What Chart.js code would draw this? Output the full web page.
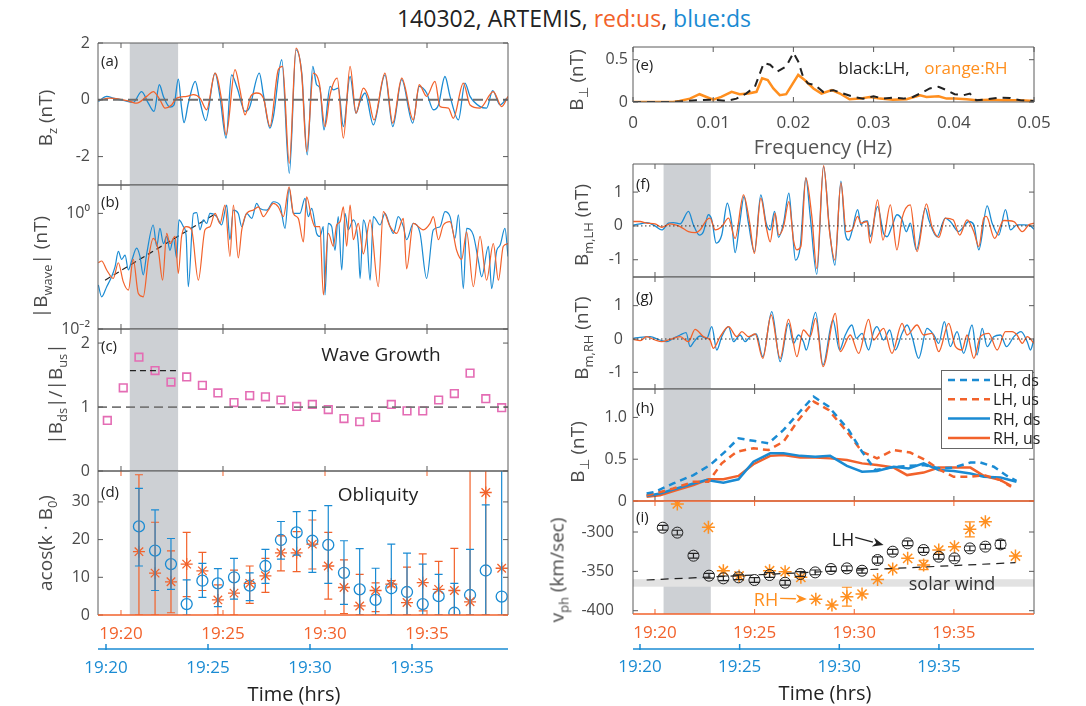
<!DOCTYPE html>
<html><head><meta charset="utf-8">
<script src="https://cdn.jsdelivr.net/npm/chart.js@4.4.1/dist/chart.umd.min.js"></script>
<style>
body{margin:0;background:#fff;}
#wrap{position:relative;width:1086px;height:706px;overflow:hidden;background:#fff;font-family:'Open Sans',sans-serif;}
canvas{position:absolute;}
.c{position:absolute;white-space:nowrap;line-height:1;transform:translate(-50%,-50%);color:#222;}
.p{position:absolute;white-space:nowrap;line-height:1;transform:translateY(-50%);color:#222;font-size:15px;}
.yl{position:absolute;white-space:nowrap;line-height:1;color:#4a4a4a;font-size:19px;transform:translate(-50%,-50%) rotate(-90deg);}
sub{font-size:68%;vertical-align:-0.4em;line-height:0;}
</style></head><body><div id="wrap">
<div class="c" style="left:574px;top:18px;font-size:23px;">140302, ARTEMIS, <span style="color:#f2622b">red:us</span>, <span style="color:#1a8bd3">blue:ds</span></div>
</div>
<script>
// ---------------- DATA ----------------
const timeTicks = [20, 25, 30, 35];          // minutes after 19:00
const shadeWindow = [20.43, 22.80];
// (a) Bz
const bzDs = [[18.89,-0.06],[19.30,0.12],[19.62,0.06],[20.11,-0.02],[20.60,-0.09],[21.01,0.29],[21.34,-0.12],[21.62,-0.41],[21.88,0.53],[22.08,0.12],[22.40,-0.26],[22.60,-0.18],[22.81,0.73],[22.97,-0.29],[23.09,-0.80],[23.30,-0.12],[23.64,0.65],[23.87,-0.06],[24.15,-0.73],[24.61,0.94],[24.85,0.12],[25.15,-1.35],[25.42,0.88],[25.70,0.41],[26.08,-0.41],[26.29,-0.29],[26.78,0.94],[26.98,0.18],[27.30,-1.00],[27.47,-0.59],[27.88,1.41],[28.25,-2.59],[28.58,1.76],[28.86,0.94],[29.13,-1.94],[29.40,1.18],[29.59,0.53],[29.75,0.41],[29.95,-1.06],[30.25,0.47],[30.41,0.35],[30.65,0.41],[30.90,-0.94],[31.23,0.82],[31.52,-0.47],[31.72,-0.06],[31.96,0.24],[32.37,-0.88],[32.94,0.88],[33.32,-0.94],[33.76,0.71],[34.30,-0.82],[34.62,0.47],[34.98,0.24],[35.31,-0.35],[35.56,-0.18],[35.88,0.82],[36.13,0.12],[36.54,-0.71],[36.86,0.59],[37.11,0.12],[37.60,-0.24],[37.92,-0.29],[38.22,0.32],[38.58,-0.18],[38.91,0.06]];
const bzUs = [[18.89,-0.02],[19.46,0.06],[20.44,-0.06],[20.77,-0.12],[21.26,0.12],[21.58,0.29],[21.91,0.00],[22.16,-0.29],[22.48,-0.18],[22.73,0.06],[23.22,0.12],[23.55,0.18],[23.87,0.06],[24.20,-0.35],[24.61,0.94],[24.93,0.00],[25.15,-1.24],[25.59,1.06],[25.83,0.35],[26.08,-0.53],[26.36,0.12],[26.65,0.24],[26.98,0.06],[27.30,-0.94],[27.71,1.06],[27.92,1.18],[28.25,-2.24],[28.58,1.82],[28.86,0.88],[29.10,-1.82],[29.43,0.94],[29.72,0.59],[30.00,-0.94],[30.25,0.18],[30.60,0.76],[30.90,-1.35],[31.23,1.18],[31.52,-0.47],[31.88,0.41],[32.12,0.12],[32.40,-0.71],[32.94,0.94],[33.32,-0.82],[33.76,0.76],[34.33,-0.71],[34.62,0.53],[34.98,0.12],[35.39,0.65],[35.64,-0.24],[36.05,-0.29],[36.29,-0.65],[36.78,0.59],[37.11,-0.18],[37.60,-0.29],[38.25,0.29],[38.66,-0.24],[38.97,0.12]];
// (b) |B_wave|
const bwDs = [[18.89,0.058],[19.05,0.036],[19.30,0.054],[19.54,0.080],[19.71,0.12],[19.87,0.22],[20.03,0.16],[20.20,0.19],[20.36,0.105],[20.52,0.15],[20.77,0.25],[20.93,0.18],[21.09,0.086],[21.26,0.20],[21.58,0.63],[21.75,0.27],[21.91,0.55],[22.08,0.30],[22.24,0.40],[22.40,0.23],[22.57,0.37],[22.73,0.17],[22.84,0.77],[23.06,0.59],[23.19,0.42],[23.30,0.054],[23.55,1.00],[23.71,1.03],[23.87,0.52],[24.04,0.77],[24.20,0.67],[24.36,1.00],[24.69,0.88],[24.93,0.63],[25.18,1.39],[25.34,0.35],[25.51,1.14],[25.75,1.00],[25.92,0.59],[26.16,1.00],[26.41,0.82],[26.65,1.49],[26.81,1.22],[27.14,1.14],[27.47,1.59],[27.79,1.39],[28.04,0.55],[28.24,2.71],[28.45,1.00],[28.77,1.00],[29.02,1.82],[29.18,0.88],[29.35,1.22],[29.59,0.45],[29.75,0.40],[29.92,0.59],[30.00,0.039],[30.16,0.67],[30.33,0.59],[30.49,0.23],[30.65,0.88],[30.82,0.105],[30.98,1.00],[31.14,0.52],[31.39,0.77],[31.63,0.30],[31.72,0.075],[31.88,0.77],[32.04,0.45],[32.21,0.070],[32.37,0.88],[32.70,0.63],[32.94,1.00],[33.19,0.59],[33.35,0.45],[33.59,0.88],[33.84,0.59],[34.00,0.35],[34.33,0.67],[34.66,0.45],[34.98,0.075],[35.31,0.52],[35.64,0.59],[35.88,1.07],[36.13,0.88],[36.37,0.37],[36.54,0.94],[36.78,0.050],[36.94,0.55],[37.27,0.42],[37.52,0.15],[37.68,0.080],[38.01,0.27],[38.17,0.050],[38.42,0.23],[38.58,0.28],[38.82,0.55],[38.97,0.18]];
const bwUs = [[18.89,0.14],[19.05,0.15],[19.30,0.105],[19.62,0.075],[19.87,0.14],[20.11,0.066],[20.36,0.047],[20.60,0.16],[20.85,0.041],[21.09,0.036],[21.34,0.16],[21.58,0.37],[21.83,0.23],[22.04,0.070],[22.24,0.45],[22.40,0.30],[22.65,0.40],[22.81,0.092],[22.97,0.40],[23.22,0.59],[23.46,0.52],[23.79,0.070],[24.12,0.52],[24.36,0.59],[24.61,1.00],[24.85,0.67],[25.10,1.39],[25.34,0.18],[25.51,1.39],[25.75,0.17],[25.92,0.52],[26.16,1.00],[26.49,1.14],[26.73,1.30],[26.98,0.88],[27.22,1.14],[27.47,1.49],[27.71,1.30],[27.96,0.88],[28.24,2.89],[28.45,1.00],[28.69,0.82],[28.94,0.32],[29.10,1.94],[29.35,0.82],[29.51,0.59],[29.75,0.59],[29.92,0.039],[30.16,0.45],[30.41,0.27],[30.57,0.63],[30.74,0.72],[30.90,1.30],[31.06,0.27],[31.23,1.39],[31.39,0.35],[31.63,0.67],[31.88,0.20],[32.21,0.77],[32.61,0.054],[32.86,1.07],[33.19,0.59],[33.51,0.45],[33.84,0.82],[34.00,0.11],[34.33,0.67],[34.82,0.52],[35.15,0.67],[35.31,0.88],[35.56,0.35],[35.80,0.63],[36.13,0.72],[36.45,0.23],[36.70,0.16],[36.94,0.48],[37.27,0.054],[37.60,0.40],[37.92,0.070],[38.25,0.30],[38.50,0.070],[38.74,0.27],[38.97,0.30]];
const growthFit = [[19.22,0.070],[24.53,0.94]];
// (c) wave growth ratio
const ratioT = [19.33,20.11,20.88,21.67,22.45,23.22,23.99,24.75,25.54,26.31,27.08,27.84,28.61,29.38,30.16,30.93,31.70,32.48,33.25,34.02,34.79,35.57,36.34,37.11,37.88,38.66];
const ratioV = [0.79,1.30,1.78,1.57,1.39,1.47,1.34,1.22,1.07,1.18,1.16,1.11,1.01,1.04,0.96,0.82,0.77,0.84,1.04,0.94,0.94,1.11,1.21,1.53,1.13,0.99];
const growthLevel = [[20.44,1.57],[22.81,1.57]];
// (d) obliquity
const obliqT = [20.88,21.67,22.45,23.22,23.99,24.75,25.54,26.31,27.08,27.84,28.61,29.38,30.16,30.93,31.70,32.48,33.25,34.02,34.79,35.57,36.34,37.11,37.88,38.66];
const obliqDs   = [23.5,17.1,13.5,2.9,9.1,8.4,10.0,7.8,13.0,19.9,21.9,19.7,18.6,11.2,6.8,4.0,7.1,6.1,2.9,5.0,0.6,5.3,11.8,4.9];
const obliqDsLo = [13.0,6.5,6.8,0,4.7,2.2,4.2,3.8,8.4,14.8,15.9,11.3,8.4,2.8,0,0,0,0,0,0,0,0,0,0];
const obliqDsHi = [33.6,27.9,20.3,9.3,13.7,12.3,15.0,11.2,17.4,24.8,27.4,27.7,29.0,19.7,17.6,12.4,18.8,16.4,13.5,10.8,8.4,17.4,29.2,45];
const obliqUs   = [16.8,11.1,8.8,13.5,11.7,4.0,5.8,8.4,10.4,16.5,16.5,18.8,13.0,7.3,2.4,6.5,8.2,3.3,8.6,6.8,6.5,3.5,32.5,12.4];
const obliqUsLo = [0,0,0.6,4.9,6.5,0,0,3.1,6.0,11.7,11.5,12.2,4.2,0.4,0,0.9,7.5,0,1.1,0,0,0,0,12.4];
const obliqUsHi = [37.2,24.6,17.0,21.9,16.6,8.0,11.9,13.0,15.0,21.0,22.1,25.2,21.9,14.6,10.8,8.5,9.1,12.7,16.2,14.2,17.7,45,45,12.4];
// (e) spectra
const freqTicks = [0,0.01,0.02,0.03,0.04,0.05];
const specLH = [[0,0],[0.0050,0],[0.0079,0.020],[0.0100,0.028],[0.0116,0.012],[0.0129,0.040],[0.0141,0.100],[0.0152,0.180],[0.0163,0.460],[0.0171,0.440],[0.0180,0.360],[0.0191,0.420],[0.0200,0.580],[0.0206,0.480],[0.0212,0.300],[0.0218,0.220],[0.0227,0.200],[0.0237,0.120],[0.0250,0.140],[0.0262,0.100],[0.0275,0.060],[0.0287,0.040],[0.0300,0.068],[0.0312,0.040],[0.0324,0.052],[0.0337,0.040],[0.0349,0.060],[0.0358,0.100],[0.0370,0.160],[0.0381,0.180],[0.0391,0.140],[0.0401,0.092],[0.0412,0.080],[0.0420,0.100],[0.0428,0.020],[0.0441,0.032],[0.0458,0.052],[0.0470,0.048],[0.0483,0.020],[0.0500,0.012]];
const specRH = [[0,0],[0.0050,0],[0.0058,0.012],[0.0071,0.040],[0.0083,0.092],[0.0100,0.028],[0.0110,0.060],[0.0123,0.120],[0.0133,0.092],[0.0144,0.100],[0.0154,0.120],[0.0161,0.280],[0.0168,0.260],[0.0175,0.160],[0.0183,0.080],[0.0191,0.092],[0.0206,0.320],[0.0214,0.260],[0.0225,0.160],[0.0235,0.100],[0.0248,0.140],[0.0258,0.100],[0.0270,0.032],[0.0283,0.040],[0.0295,0.060],[0.0308,0.040],[0.0324,0.028],[0.0341,0.032],[0.0358,0.080],[0.0366,0.060],[0.0381,0.068],[0.0391,0.040],[0.0401,0.040],[0.0416,0.032],[0.0428,0.020],[0.0445,0.028],[0.0462,0.020],[0.0483,0.020],[0.0500,0.012]];
// (f) B_m,LH
const bmlDs = [[18.91,0.03],[19.25,0.06],[19.58,0.10],[20.00,0.00],[20.34,-0.12],[20.67,0.08],[20.92,0.10],[21.26,0.06],[21.68,0.43],[21.93,0.03],[22.23,-0.27],[22.43,-0.17],[22.68,0.33],[22.85,0.18],[23.07,-0.51],[23.35,-0.27],[23.63,0.67],[23.85,0.08],[24.02,-0.79],[24.24,0.03],[24.47,0.87],[24.69,0.08],[24.99,-0.76],[25.31,0.92],[25.58,0.08],[25.78,-0.12],[26.00,0.43],[26.20,-0.34],[26.45,0.08],[26.72,0.97],[26.87,0.08],[27.05,-1.01],[27.29,-0.61],[27.57,1.42],[27.79,0.28],[28.12,-1.43],[28.46,1.76],[28.76,-0.12],[29.03,-1.16],[29.33,1.32],[29.55,-0.22],[29.72,-0.42],[29.88,-0.17],[30.17,0.48],[30.34,0.03],[30.47,0.13],[30.67,0.15],[30.80,-0.32],[31.17,0.57],[31.47,-0.22],[31.64,-0.32],[31.89,-0.02],[32.14,0.33],[32.40,0.18],[32.61,-0.17],[32.81,0.08],[33.12,-0.71],[33.57,0.52],[33.74,0.18],[34.15,-0.32],[34.57,0.23],[34.82,0.13],[35.24,-0.17],[35.49,-0.02],[35.75,0.13],[36.00,0.03],[36.25,-0.71],[36.67,0.59],[36.92,0.08],[37.25,-0.27],[37.59,0.48],[37.84,-0.12],[38.17,0.03],[38.51,0.03],[38.84,0.00],[39.02,-0.10]];
const bmlUs = [[18.91,0.13],[19.25,0.13],[19.58,0.08],[20.00,0.06],[20.34,-0.04],[20.75,0.06],[21.26,-0.02],[21.68,-0.17],[22.01,-0.20],[22.26,-0.12],[22.60,0.18],[22.76,0.23],[23.02,-0.12],[23.35,-0.02],[23.69,0.23],[24.02,-0.37],[24.44,0.92],[24.74,0.13],[24.99,-0.81],[25.31,0.82],[25.58,-0.02],[25.78,-0.47],[26.03,0.38],[26.21,-0.27],[26.45,-0.02],[26.72,0.72],[26.95,-0.42],[27.12,-0.71],[27.32,-0.61],[27.57,1.42],[27.87,0.28],[28.12,-1.26],[28.46,1.78],[28.76,-0.17],[29.03,-1.01],[29.33,1.27],[29.60,-0.17],[29.88,-0.12],[30.17,0.28],[30.34,0.08],[30.64,0.13],[30.80,-0.51],[31.17,0.77],[31.44,-0.42],[31.81,0.62],[32.14,-0.71],[32.40,0.23],[32.81,0.62],[33.15,-0.76],[33.62,0.65],[33.90,-0.02],[34.24,-0.34],[34.57,0.23],[34.96,0.18],[35.29,-0.27],[35.66,0.18],[36.00,-0.17],[36.25,-0.61],[36.50,0.23],[36.63,0.28],[37.04,-0.37],[37.50,0.16],[38.01,0.13],[38.43,-0.17],[38.76,0.03],[39.02,0.08]];
// (g) B_m,RH
const bmrDs = [[18.91,0.02],[19.25,0.05],[19.75,0.07],[20.25,-0.03],[20.59,-0.08],[20.92,0.02],[21.26,0.12],[21.56,0.19],[21.76,-0.23],[21.96,-0.08],[22.26,0.09],[22.60,0.02],[22.85,0.37],[23.10,-0.33],[23.35,0.07],[23.69,0.37],[23.94,-0.08],[24.27,0.12],[24.52,-0.08],[24.77,0.07],[25.08,0.15],[25.41,-0.53],[25.86,0.82],[26.28,-0.68],[26.70,0.47],[26.95,-0.13],[27.20,0.12],[27.45,-0.08],[27.59,-0.33],[28.06,0.80],[28.43,-0.78],[28.93,0.57],[29.26,-0.33],[29.55,0.12],[29.88,0.42],[30.10,0.02],[30.39,0.17],[30.72,-0.33],[30.97,0.22],[31.14,0.37],[31.47,-0.03],[31.78,0.27],[32.06,-0.33],[32.40,0.17],[32.65,0.42],[32.90,0.07],[33.23,-0.58],[33.65,0.32],[33.99,0.12],[34.24,-0.13],[34.52,0.52],[34.82,-0.23],[35.16,0.22],[35.49,-0.43],[35.91,0.42],[36.16,-0.48],[36.42,0.32],[36.67,-0.23],[37.00,0.07],[37.34,0.12],[37.64,-0.23],[38.01,0.07],[38.37,0.22],[38.68,-0.08],[38.84,-0.33],[39.02,0.00]];
const bmrUs = [[18.91,-0.01],[19.25,-0.05],[19.58,0.07],[20.00,-0.03],[20.34,-0.08],[20.75,-0.01],[21.26,0.07],[21.68,-0.08],[22.01,0.29],[22.43,0.07],[22.76,-0.03],[22.93,-0.28],[23.27,0.07],[23.69,0.37],[24.10,0.07],[24.36,0.22],[24.69,0.07],[25.03,0.15],[25.41,-0.58],[25.83,0.72],[26.28,-0.58],[26.70,0.59],[27.12,-0.53],[27.45,0.27],[27.79,0.07],[28.06,0.62],[28.43,-0.83],[29.05,0.77],[29.30,-0.38],[29.80,0.12],[30.22,-0.43],[30.72,0.59],[30.97,-0.03],[31.47,0.32],[31.89,-0.43],[32.40,0.47],[32.65,0.12],[33.15,0.42],[33.48,0.12],[33.90,0.17],[34.24,-0.38],[34.74,0.47],[35.08,-0.23],[35.41,-0.33],[35.66,0.12],[36.00,-0.58],[36.33,0.07],[36.75,0.17],[37.17,-0.33],[37.59,0.22],[37.92,0.22],[38.17,0.12],[38.43,-0.13],[38.68,0.07],[39.02,-0.13]];
// (h) B_perp
const bpLhDs = [[19.58,0.09],[20.00,0.11],[20.92,0.21],[21.93,0.31],[22.76,0.43],[23.52,0.59],[24.19,0.75],[24.94,0.72],[25.70,0.69],[26.45,0.85],[27.20,1.05],[27.96,1.25],[28.71,1.13],[29.72,0.85],[30.39,0.59],[31.06,0.37],[31.81,0.40],[32.65,0.42],[33.48,0.43],[34.32,0.39],[34.99,0.40],[35.83,0.46],[36.33,0.46],[37.00,0.41],[37.67,0.30],[38.14,0.24]];
const bpLhUs = [[19.58,0.07],[20.00,0.09],[20.92,0.15],[21.93,0.23],[22.68,0.23],[23.35,0.45],[24.10,0.59],[24.94,0.63],[25.70,0.61],[26.45,0.71],[27.20,0.97],[27.96,1.19],[28.71,1.09],[29.63,0.83],[30.39,0.59],[31.14,0.51],[31.98,0.61],[32.81,0.58],[33.57,0.49],[34.32,0.37],[34.99,0.29],[35.83,0.29],[36.50,0.31],[37.34,0.25],[37.87,0.17]];
const bpRhDs = [[19.58,0.06],[20.25,0.09],[21.09,0.15],[21.93,0.21],[22.60,0.25],[23.43,0.22],[24.19,0.26],[24.94,0.47],[25.78,0.57],[26.45,0.57],[27.29,0.54],[28.04,0.53],[28.79,0.54],[29.63,0.42],[30.39,0.35],[31.14,0.36],[31.98,0.41],[32.73,0.39],[33.48,0.45],[34.24,0.37],[34.99,0.36],[35.83,0.33],[36.50,0.29],[37.34,0.28],[38.14,0.23]];
const bpRhUs = [[19.58,0.05],[20.25,0.07],[21.09,0.13],[21.93,0.19],[22.68,0.26],[23.43,0.26],[24.19,0.30],[24.94,0.44],[25.78,0.54],[26.45,0.55],[27.29,0.52],[28.04,0.52],[28.79,0.51],[29.63,0.49],[30.39,0.45],[31.14,0.43],[31.98,0.40],[32.65,0.31],[33.48,0.34],[34.24,0.40],[34.99,0.40],[35.83,0.40],[36.50,0.30],[37.34,0.25],[37.87,0.18]];
// (i) phase speed
const vphLhT = [20.39,21.12,21.93,22.71,23.43,24.19,24.99,25.75,26.53,27.29,28.04,28.83,29.63,30.39,31.17,31.93,32.68,33.48,34.24,35.03,35.80,36.58,37.34];
const vphLh  = [-294.5,-300.8,-330.1,-355.5,-358.9,-357.6,-361.0,-354.7,-364.4,-353.4,-351.3,-347.0,-346.2,-349.2,-335.6,-325.0,-314.4,-322.9,-331.4,-333.5,-320.8,-318.6,-315.7];
const vphLhErr = [3,3,3,3,3,3,3,3,3,3,3,3,3,3,4,3,3,3,3,3,3,3,5];
const vphRhT = [21.12,22.68,23.43,24.22,25.75,26.53,27.32,28.07,28.88,29.63,30.39,31.17,31.93,32.68,33.48,34.24,35.03,35.80,36.58,38.09];
const vphRh  = [-264.4,-294.1,-349.2,-355.9,-349.2,-350.4,-357.6,-385.6,-392.8,-382.2,-378.8,-360.2,-347.0,-333.5,-341.9,-322.9,-318.6,-296.6,-286.9,-330.5];
const vphRhErr = [0,0,0,0,0,0,0,0,0,12,0,0,0,0,6,0,0,9.5,0,0];
const solarWindLine = [[19.58,-361],[38.09,-339]];
const solarWindBand = [-369.5, -360];
const arrowLH = [[30.05,-306.8],[31.47,-316.5]];
const arrowRH = [[26.28,-384.3],[27.62,-385.2]];

// ---------------- STYLE ----------------
const RED = '#f2622b', BLUE = '#1a8bd3', ORG = '#ff8f1f', PINK = '#e46cb4', GRAY = '#4a4a4a';
Chart.defaults.font.family = "'Open Sans', sans-serif";
Chart.defaults.font.size = 16;
Chart.defaults.color = GRAY;
const wrap = document.getElementById('wrap');
const xy = a => a.map(([x, y]) => ({x, y}));
const zip = (t, v) => t.map((x, i) => ({x, y: v[i]}));

const deco = {
  id: 'deco',
  beforeDatasetsDraw(chart, _a, o) {
    const {ctx, chartArea: a} = chart, x = chart.scales.x, y = chart.scales.y;
    ctx.save();
    if (o.shade) {
      const x0 = x.getPixelForValue(o.shade[0]), x1 = x.getPixelForValue(o.shade[1]);
      ctx.fillStyle = '#cdd0d4'; ctx.fillRect(x0, a.top, x1 - x0, a.bottom - a.top);
    }
    if (o.band) {
      const y0 = y.getPixelForValue(o.band[0]), y1 = y.getPixelForValue(o.band[1]);
      ctx.fillStyle = '#e2e2e2'; ctx.fillRect(a.left, Math.min(y0, y1), a.right - a.left, Math.abs(y1 - y0));
    }
    ctx.restore();
  },
  afterDatasetsDraw(chart, _a, o) {
    const {ctx, chartArea: a} = chart, x = chart.scales.x, y = chart.scales.y;
    ctx.save();
    ctx.beginPath(); ctx.rect(a.left, a.top, a.right - a.left, a.bottom - a.top); ctx.clip();
    chart.data.datasets.forEach((ds, i) => {
      if (!ds.errLo) return;
      const meta = chart.getDatasetMeta(i);
      ctx.strokeStyle = ds.errColor || ds.borderColor; ctx.lineWidth = 1.2;
      meta.data.forEach((pt, j) => {
        const lo = ds.errLo[j], hi = ds.errHi[j];
        if (lo === hi) return;
        const p = pt.x, y0 = y.getPixelForValue(lo), y1 = y.getPixelForValue(hi), c = ds.capW || 4;
        ctx.beginPath();
        ctx.moveTo(p, y0); ctx.lineTo(p, y1);
        ctx.moveTo(p - c, y0); ctx.lineTo(p + c, y0);
        ctx.moveTo(p - c, y1); ctx.lineTo(p + c, y1);
        ctx.stroke();
      });
    });
    (o.arrows || []).forEach(ar => {
      const x0 = x.getPixelForValue(ar.pts[0][0]), y0 = y.getPixelForValue(ar.pts[0][1]);
      const x1 = x.getPixelForValue(ar.pts[1][0]), y1 = y.getPixelForValue(ar.pts[1][1]);
      const ang = Math.atan2(y1 - y0, x1 - x0), L = 11, W = 4.5;
      ctx.strokeStyle = ar.color; ctx.fillStyle = ar.color; ctx.lineWidth = 1.4;
      ctx.beginPath(); ctx.moveTo(x0, y0); ctx.lineTo(x1 - L * Math.cos(ang), y1 - L * Math.sin(ang)); ctx.stroke();
      ctx.beginPath(); ctx.moveTo(x1, y1);
      ctx.lineTo(x1 - L * Math.cos(ang) + W * Math.sin(ang), y1 - L * Math.sin(ang) - W * Math.cos(ang));
      ctx.lineTo(x1 - L * 0.7 * Math.cos(ang), y1 - L * 0.7 * Math.sin(ang));
      ctx.lineTo(x1 - L * Math.cos(ang) - W * Math.sin(ang), y1 - L * Math.sin(ang) + W * Math.cos(ang));
      ctx.closePath(); ctx.fill();
    });
    ctx.restore();
  },
  afterDraw(chart, _a, o) {
    const {ctx, chartArea: a, scales} = chart, x = scales.x, y = scales.y;
    const fc = '#5a5a5a';
    const col = Object.assign({top: fc, bottom: fc, left: fc, right: fc, xt: fc}, o.sides || {});
    const L = a.left, R = a.right, T = a.top, B = a.bottom;
    ctx.save();
    const line = (x0, y0, x1, y1, c, w) => { ctx.strokeStyle = c; ctx.lineWidth = w || 1; ctx.beginPath(); ctx.moveTo(x0, y0); ctx.lineTo(x1, y1); ctx.stroke(); };
    x.ticks.forEach(t => { const p = x.getPixelForValue(t.value); line(p, B, p, B - 5, col.xt); line(p, T, p, T + 5, col.xt); });
    y.ticks.forEach(t => { const p = y.getPixelForValue(t.value); line(L, p, L + 5, p, fc); line(R, p, R - 5, p, fc); });
    line(L, T, L, B, col.left); line(R, T, R, B, col.right);
    line(L, T, R, T, col.top, col.top === fc ? 1 : 1.5); line(L, B, R, B, col.bottom, col.bottom === fc ? 1 : 1.5);
    if (scales.xb) {
      const xb = scales.xb, yb = xb.top;
      line(L, yb, R, yb, BLUE, 1.5);
      xb.ticks.forEach(t => { const p = xb.getPixelForValue(t.value); line(p, yb + 1, p, yb - 5, BLUE, 1.5); });
    }
    ctx.restore();
  }
};

function fixedTicks(arr) { return s => { s.ticks = arr.map(v => ({value: v})); }; }
function yAx(min, max, ticks, w, pad, extra) {
  return Object.assign({position: 'left', min, max, afterBuildTicks: fixedTicks(ticks),
    grid: {display: false, drawTicks: false}, border: {display: false},
    ticks: {padding: pad, color: GRAY, autoSkip: false},
    afterFit: s => { s.width = w; s.paddingTop = 0; s.paddingBottom = 0; }}, extra || {});
}
function xAx(min, max, ticks, h, opts) {
  opts = opts || {};
  return {type: 'linear', position: 'bottom', min, max, weight: opts.weight || 0,
    afterBuildTicks: fixedTicks(ticks),
    grid: {display: false, drawTicks: false}, border: {display: false},
    ticks: {display: !!opts.show, padding: opts.pad || 10, color: opts.color || GRAY, maxRotation: 0, autoSkip: false,
      font: {size: opts.size || 16}, callback: opts.cb || (v => v)},
    afterFit: s => { s.height = h; s.paddingLeft = 0; s.paddingRight = 0; }};
}
const timeLabel = v => '19:' + v;

function panel(box, scales, datasets, decoOpts) {
  const {l, t, r, b, pl, pr, pt, pb, xh} = box;
  const W = r - l + pl + pr, H = b - t + pt + pb;
  const cv = document.createElement('canvas');
  cv.width = W; cv.height = H;
  cv.style.left = (l - pl) + 'px'; cv.style.top = (t - pt) + 'px';
  cv.style.width = W + 'px'; cv.style.height = H + 'px';
  wrap.appendChild(cv);
  return new Chart(cv, {
    type: 'scatter',
    data: {datasets},
    options: {
      responsive: false, animation: false, devicePixelRatio: 1, events: [],
      layout: {autoPadding: false, padding: {left: 0, right: pr, top: pt, bottom: pb - (xh || 0)}},
      plugins: {legend: {display: false}, tooltip: {enabled: false}, deco: decoOpts || {}},
      scales
    },
    plugins: [deco]
  });
}
const wave = (data, color, w) => ({data: xy(data), showLine: true, pointRadius: 0, borderColor: color, borderWidth: w || 1.3, cubicInterpolationMode: 'monotone'});
const refLine = (data, color, w, dash) => ({data: xy(data), showLine: true, pointRadius: 0, borderColor: color, borderWidth: w, borderDash: dash});

// Left column: x 98..508
const LX = [18.873, 38.97], LXB = [19.608, 39.706];
const RX = [18.896, 39.02], RXB = [19.649, 39.77];

// (a)
panel({l: 98, t: 43, r: 508, b: 185, pl: 98, pr: 10, pt: 12, pb: 12, xh: 0},
  {x: xAx(LX[0], LX[1], timeTicks, 0), y: yAx(-3, 2, [-2, 0, 2], 98, 8)},
  [refLine([[LX[0], 0], [LX[1], 0]], '#6e6e6e', 2, [10, 5]), wave(bzUs, RED), wave(bzDs, BLUE)],
  {shade: shadeWindow});
// (b)
panel({l: 98, t: 185, r: 508, b: 329, pl: 98, pr: 10, pt: 12, pb: 12, xh: 0},
  {x: xAx(LX[0], LX[1], timeTicks, 0),
   y: yAx(0.01, 3.1, [0.01, 1], 98, 8, {type: 'logarithmic', ticks: {padding: 8, color: GRAY, callback: v => v === 1 ? '10⁰' : '10⁻²'}})},
  [wave(bwUs, RED, 1.2), wave(bwDs, BLUE, 1.2), refLine(growthFit, '#222', 1.2, [6, 4])],
  {shade: shadeWindow});
// (c)
panel({l: 98, t: 329, r: 508, b: 471, pl: 98, pr: 10, pt: 12, pb: 12, xh: 0},
  {x: xAx(LX[0], LX[1], timeTicks, 0), y: yAx(0, 2.22, [0, 1, 2], 98, 8)},
  [refLine([[LX[0], 1], [LX[1], 1]], '#777', 1.8, [9, 5]), refLine(growthLevel, '#222', 1.2, [6, 4]),
   {data: zip(ratioT, ratioV), pointStyle: 'rect', pointRadius: 5.4, borderColor: PINK, backgroundColor: 'rgba(0,0,0,0)', pointBorderWidth: 1.6, showLine: false}],
  {shade: shadeWindow});
// (d)
panel({l: 98, t: 471, r: 508, b: 615, pl: 98, pr: 10, pt: 12, pb: 80, xh: 74},
  {x: xAx(LX[0], LX[1], timeTicks, 34, {show: true, color: RED, pad: 9, cb: timeLabel, size: 17}),
   xb: xAx(LXB[0], LXB[1], timeTicks, 40, {show: true, color: BLUE, pad: 9, cb: timeLabel, weight: 1, size: 17}),
   y: yAx(0, 38.2, [0, 10, 20, 30], 98, 8)},
  [{data: zip(obliqT, obliqUs), errLo: obliqUsLo, errHi: obliqUsHi, pointStyle: 'star', pointRadius: 6, borderColor: RED, pointBorderWidth: 1.3, showLine: false},
   {data: zip(obliqT, obliqDs), errLo: obliqDsLo, errHi: obliqDsHi, pointStyle: 'circle', pointRadius: 5.5, borderColor: BLUE, backgroundColor: 'rgba(0,0,0,0)', pointBorderWidth: 1.3, showLine: false}],
  {shade: shadeWindow, sides: {bottom: RED, xt: RED}});

// Right column: x 633..1034
// (e)
panel({l: 633, t: 47, r: 1034, b: 102, pl: 100, pr: 30, pt: 12, pb: 34, xh: 34},
  {x: xAx(0, 0.05, freqTicks, 34, {show: true, color: GRAY, pad: 11, size: 17}), y: yAx(0, 0.65, [0, 0.5], 100, 5)},
  [refLine(specLH, '#222', 2, [8, 6]), {data: xy(specRH), showLine: true, pointRadius: 0, borderColor: ORG, borderWidth: 2.5}],
  {});
// (f)
panel({l: 633, t: 164, r: 1034, b: 277, pl: 100, pr: 10, pt: 12, pb: 12, xh: 0},
  {x: xAx(RX[0], RX[1], timeTicks, 0), y: yAx(-1.51, 1.83, [-1, 0, 1], 100, 10)},
  [refLine([[RX[0], 0], [RX[1], 0]], '#333', 1, [1.5, 2.5]), wave(bmlUs, RED), wave(bmlDs, BLUE)],
  {shade: shadeWindow});
// (g)
panel({l: 633, t: 277, r: 1034, b: 389, pl: 100, pr: 10, pt: 12, pb: 12, xh: 0},
  {x: xAx(RX[0], RX[1], timeTicks, 0), y: yAx(-1.5, 1.86, [-1, 0, 1], 100, 10)},
  [refLine([[RX[0], 0], [RX[1], 0]], '#333', 1, [1.5, 2.5]), wave(bmrUs, RED), wave(bmrDs, BLUE)],
  {shade: shadeWindow});
// (h)
panel({l: 633, t: 389, r: 1034, b: 501, pl: 100, pr: 10, pt: 12, pb: 12, xh: 0},
  {x: xAx(RX[0], RX[1], timeTicks, 0), y: yAx(0, 1.34, [0, 0.5, 1], 100, 6)},
  [refLine(bpLhDs, BLUE, 2.5, [7, 5]), refLine(bpLhUs, RED, 2.5, [7, 5]), refLine(bpRhDs, BLUE, 2.5), refLine(bpRhUs, RED, 2.5)],
  {shade: shadeWindow});
// (i)
panel({l: 633, t: 501, r: 1034, b: 614, pl: 100, pr: 10, pt: 12, pb: 80, xh: 74},
  {x: xAx(RX[0], RX[1], timeTicks, 35, {show: true, color: RED, pad: 9, cb: timeLabel, size: 17}),
   xb: xAx(RXB[0], RXB[1], timeTicks, 39, {show: true, color: BLUE, pad: 8, cb: timeLabel, weight: 1, size: 17}),
   y: yAx(-404.2, -260.6, [-400, -350, -300], 100, 19)},
  [refLine(solarWindLine, '#222', 1.2, [8, 6]),
   {data: zip(vphLhT, vphLh), errLo: vphLh.map((v, i) => v - vphLhErr[i]), errHi: vphLh.map((v, i) => v + vphLhErr[i]), capW: 5,
    pointStyle: 'circle', pointRadius: 5.5, borderColor: '#222', backgroundColor: 'rgba(0,0,0,0)', pointBorderWidth: 1, showLine: false},
   {data: zip(vphRhT, vphRh), errLo: vphRh.map((v, i) => v - vphRhErr[i]), errHi: vphRh.map((v, i) => v + vphRhErr[i]), capW: 5,
    pointStyle: 'star', pointRadius: 6.5, borderColor: ORG, pointBorderWidth: 1.5, showLine: false}],
  {shade: shadeWindow, band: solarWindBand, sides: {top: RED, bottom: RED, xt: RED},
   arrows: [{pts: arrowLH, color: '#222'}, {pts: arrowRH, color: ORG}]});

// ---------------- TEXT ----------------
const texts = [
  ['p', 101, 60, '(a)'], ['p', 101, 201, '(b)'], ['p', 101, 345, '(c)'], ['p', 101, 491, '(d)'],
  ['p', 636, 64, '(e)'], ['p', 636, 183, '(f)'], ['p', 636, 296, '(g)'], ['p', 636, 407, '(h)'], ['p', 636, 516, '(i)'],
  ['yl', 45, 118, 'B<sub>z</sub> (nT)'], ['yl', 40, 267, '|B<sub>wave</sub>| (nT)'], ['yl', 55, 394, '|B<sub>ds</sub>|/|B<sub>us</sub>|'],
  ['yl', 45, 543, 'acos(k · B<sub>0</sub>)'],
  ['yl', 576, 80, 'B<sub>⊥</sub> (nT)'], ['yl', 581, 225, 'B<sub>m,LH</sub> (nT)'], ['yl', 581, 338, 'B<sub>m,RH</sub> (nT)'],
  ['yl', 577, 452, 'B<sub>⊥</sub> (nT)'], ['yl', 557, 570, 'v<sub>ph</sub> (km/sec)'],
  ['c', 381, 354, 'Wave Growth', 'font-size:19px'], ['c', 378, 494, 'Obliquity', 'font-size:19px'],
  ['c', 294, 694, 'Time (hrs)', 'font-size:20px'], ['c', 825, 693, 'Time (hrs)', 'font-size:20px'],
  ['c', 823, 147, 'Frequency (Hz)', 'font-size:20px;color:#555'],
  ['c', 874, 67, 'black:LH,', 'font-size:17px'], ['c', 966, 67, 'orange:RH', 'font-size:17px;color:' + ORG],
  ['c', 843, 539, 'LH', 'font-size:18px'], ['c', 766, 599, 'RH', 'font-size:18px;color:' + ORG],
  ['c', 952, 583, 'solar wind', 'font-size:18px;color:#333']
];
texts.forEach(([cls, x, y, html, st]) => {
  const d = document.createElement('div');
  d.className = cls; d.style.left = x + 'px'; d.style.top = y + 'px';
  if (st) d.style.cssText += st;
  d.innerHTML = html; wrap.appendChild(d);
});
// legend for (h)
const leg = document.createElement('div');
leg.style.cssText = 'position:absolute;left:941px;top:370px;width:92px;height:79px;border:1px solid #666;background:#fff;box-sizing:border-box;';
const legItems = [['LH, ds', BLUE, '7 5'], ['LH, us', RED, '7 5'], ['RH, ds', BLUE, ''], ['RH, us', RED, '']];
let svg = '<svg width="92" height="79" style="position:absolute;left:-1px;top:-1px">';
legItems.forEach(([lab, c, dash], i) => {
  const yy = 10 + i * 19.3;
  svg += `<line x1="7" x2="49" y1="${yy}" y2="${yy}" stroke="${c}" stroke-width="2.5" ${dash ? `stroke-dasharray="${dash}"` : ''}/>`;
});
svg += '</svg>';
leg.innerHTML = svg + legItems.map(([lab], i) => `<div style="position:absolute;left:51px;top:${9 + i * 19.3}px;transform:translateY(-50%);font-size:16px;line-height:1;color:#222;white-space:nowrap">${lab}</div>`).join('');
wrap.appendChild(leg);
</script>
</body></html>
